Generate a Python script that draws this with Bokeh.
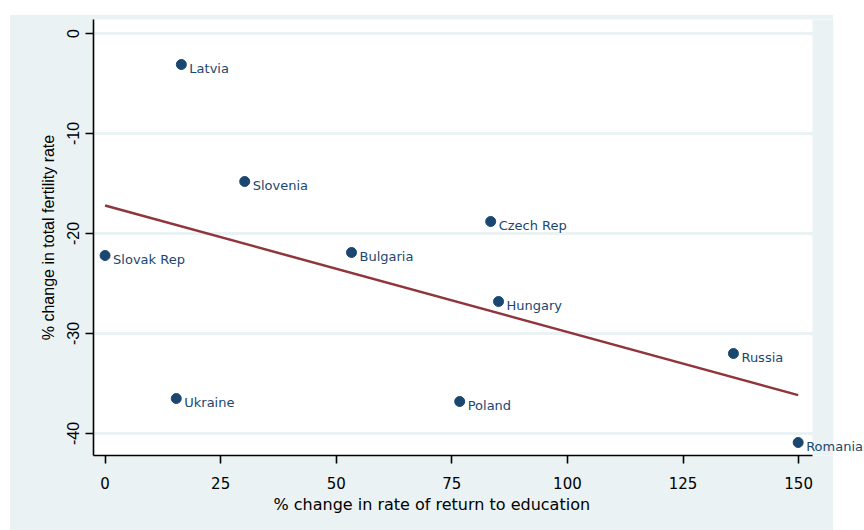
import numpy as np
from bokeh.plotting import figure
from bokeh.models import ColumnDataSource, Label, FixedTicker, Range1d, BoxAnnotation, Title
from bokeh.embed import file_html
from bokeh.resources import INLINE

# ---- data ----
countries = ["Latvia", "Slovenia", "Czech Rep", "Bulgaria", "Hungary",
             "Slovak Rep", "Ukraine", "Poland", "Russia", "Romania"]
ret_change = [16.5, 30.2, 83.4, 53.3, 85.1, 0.0, 15.4, 76.7, 135.9, 149.9]
tfr_change = [-3.1, -14.8, -18.8, -21.9, -26.8, -22.2, -36.5, -36.8, -32.0, -40.9]
x_ticks = [0, 25, 50, 75, 100, 125, 150]
y_ticks = [0, -10, -20, -30, -40]
x_title = "% change in rate of return to education"
y_title = "% change in total fertility rate"

NAVY = "#1A476F"
MAROON = "#90353B"
LIGHT = "#EAF2F3"

X0, X1 = -2.5, 153.0          # visible plot region (white area)
PX_PER_UNIT = 719 / (X1 - X0)
X_FRAME_END = X0 + 771 / PX_PER_UNIT   # frame stretched to the page edge so labels are not clipped
X_BG_END = X1 + 21 / PX_PER_UNIT       # end of the light graph region

p = figure(width=854, height=515, output_backend="svg", toolbar_location=None,
           x_range=Range1d(X0, X_FRAME_END), y_range=Range1d(-42.2, 1.4),
           min_border_left=83, min_border_right=0, min_border_top=4,
           min_border_bottom=75, margin=(15, 0, 0, 10))
p.styles = {"background": f"linear-gradient(to right, {LIGHT} 823px, #FFFFFF 823px)"}
p.border_fill_color = None
p.background_fill_color = "white"
p.outline_line_color = None

# grid
p.xgrid.grid_line_color = None
p.ygrid.grid_line_color = LIGHT
p.ygrid.grid_line_width = 3
p.ygrid.ticker = FixedTicker(ticks=y_ticks)

# light strip right of the plot region, then white page beyond
p.add_layout(BoxAnnotation(left=X1, right=X_BG_END, fill_color=LIGHT, fill_alpha=1,
                           line_color=None, level="underlay"))
p.add_layout(BoxAnnotation(left=X_BG_END, fill_color="white", fill_alpha=1,
                           line_color=None, level="underlay"))

# axes
for ax in (p.xaxis[0], p.yaxis[0]):
    ax.axis_line_color = "black"
    ax.axis_line_width = 1.6
    ax.major_tick_line_color = "black"
    ax.major_tick_line_width = 1.6
    ax.major_tick_out = 8
    ax.major_tick_in = 0
    ax.minor_tick_line_color = None
    ax.axis_label_text_font_style = "normal"
    ax.axis_label_text_color = "black"
    ax.major_label_text_color = "black"

p.xaxis.bounds = (X0, X1)
p.xaxis.ticker = FixedTicker(ticks=x_ticks)
p.yaxis.ticker = FixedTicker(ticks=y_ticks)
p.xaxis.major_label_overrides = {t: str(t) for t in x_ticks}
p.yaxis.major_label_overrides = {t: str(t) for t in y_ticks}
p.yaxis.axis_label = y_title
p.xaxis.major_label_text_font = "DejaVu Sans"
p.xaxis.major_label_text_font_size = "15px"
p.xaxis.major_label_standoff = 13
p.yaxis.major_label_text_font = "Liberation Sans"
p.yaxis.major_label_text_font_size = "16px"
p.yaxis.axis_label_text_font = "Liberation Sans"
p.yaxis.axis_label_text_font_size = "16px"
p.yaxis.major_label_orientation = "vertical"
p.yaxis.major_label_standoff = 7
p.yaxis.axis_label_standoff = 7

# x-axis title, centred under the plot region (not the stretched frame)
p.add_layout(Title(text=x_title, align="left", offset=180, standoff=2,
                   text_font="DejaVu Sans", text_font_size="16px",
                   text_font_style="normal", text_color="black"), "below")

# fitted line
xs = np.array(ret_change)
ys = np.array(tfr_change)
slope, intercept = np.polyfit(xs, ys, 1)
fx = np.array([xs.min(), xs.max()])
p.line(fx, slope * fx + intercept, line_color=MAROON, line_width=2.5)

src = ColumnDataSource(dict(x=ret_change, y=tfr_change, name=countries))
p.scatter("x", "y", source=src, size=10, fill_color=NAVY, line_color=NAVY)

for cx, cy, name in zip(ret_change, tfr_change, countries):
    p.add_layout(Label(x=cx, y=cy, text=name, x_offset=8, y_offset=-4,
                       text_font="DejaVu Sans", text_font_size="13px",
                       text_color=NAVY, text_baseline="middle", text_align="left"))

open("out.html", "w").write(file_html(p, INLINE))
